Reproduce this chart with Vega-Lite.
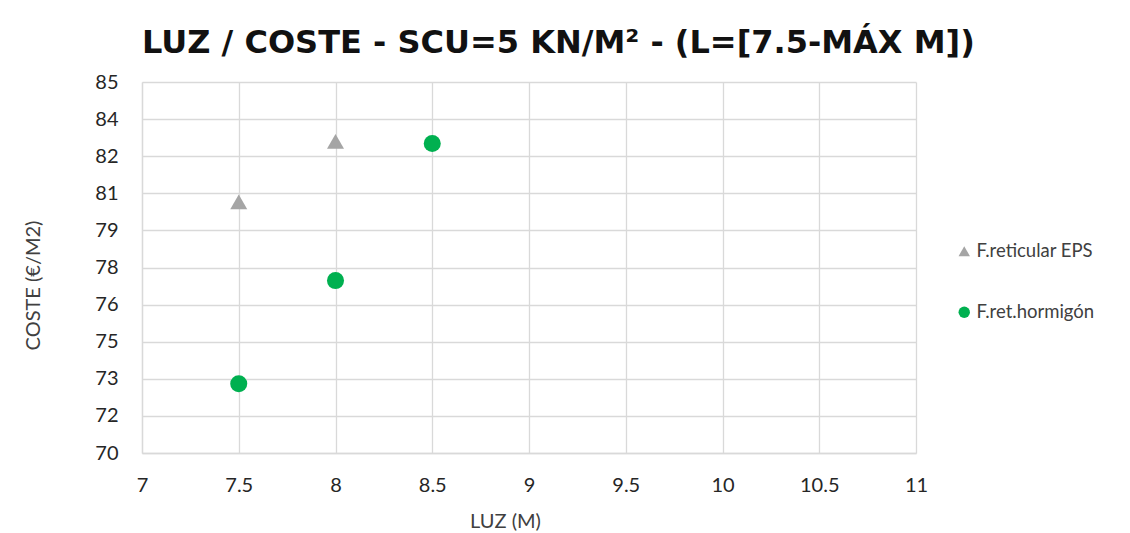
{
  "$schema": "https://vega.github.io/schema/vega-lite/v6.json",
  "width": 774,
  "height": 371,
  "autosize": "none",
  "padding": {"left": 142, "top": 82, "right": 214, "bottom": 80},
  "background": "white",
  "title": {
    "text": "LUZ / COSTE - SCU=5 KN/M² - (L=[7.5-MÁX M])",
    "font": "DejaVu Sans",
    "fontSize": 32,
    "fontWeight": "bold",
    "color": "#111111",
    "anchor": "start",
    "frame": "group",
    "offset": 12
  },
  "data": {
    "values": [
      {"luz": 7.5, "coste": 80.15, "serie": "F.reticular EPS"},
      {"luz": 8.0, "coste": 82.6, "serie": "F.reticular EPS"},
      {"luz": 7.5, "coste": 72.8, "serie": "F.ret.hormigón"},
      {"luz": 8.0, "coste": 76.97, "serie": "F.ret.hormigón"},
      {"luz": 8.5, "coste": 82.51, "serie": "F.ret.hormigón"}
    ]
  },
  "mark": {"type": "point", "filled": true, "opacity": 1, "size": 290},
  "encoding": {
    "x": {
      "field": "luz",
      "type": "quantitative",
      "scale": {"domain": [7, 11], "nice": false, "zero": false},
      "axis": {
        "title": "LUZ (M)",
        "values": [7, 7.5, 8, 8.5, 9, 9.5, 10, 10.5, 11],
        "format": "~g",
        "grid": true,
        "gridColor": "#D9D9D9",
        "gridWidth": 1.3,
        "domainColor": "#D9D9D9",
        "domainWidth": 1.3,
        "ticks": false,
        "labelFlush": false,
        "labelPadding": 22,
        "labelFont": "Lato",
        "labelFontSize": 20,
        "labelColor": "#262626",
        "titleFont": "Lato",
        "titleFontSize": 20,
        "titleFontWeight": "normal",
        "titleColor": "#404040",
        "titleX": 363,
        "titleY": 58,
        "titleBaseline": "top"
      }
    },
    "y": {
      "field": "coste",
      "type": "quantitative",
      "scale": {"domain": [70, 85], "nice": false, "zero": false},
      "axis": {
        "title": "COSTE (€/M2)",
        "values": [70, 71.5, 73, 74.5, 76, 77.5, 79, 80.5, 82, 83.5, 85],
        "format": ".0f",
        "grid": true,
        "gridColor": "#D9D9D9",
        "gridWidth": 1.3,
        "domainColor": "#D9D9D9",
        "domainWidth": 1.3,
        "ticks": false,
        "labelFlush": false,
        "labelPadding": 24,
        "labelFont": "Lato",
        "labelFontSize": 20,
        "labelColor": "#262626",
        "titleFont": "Lato",
        "titleFontSize": 20,
        "titleFontWeight": "normal",
        "titleColor": "#404040",
        "titleX": -109,
        "titleY": 203,
        "titleBaseline": "middle"
      }
    },
    "color": {
      "field": "serie",
      "type": "nominal",
      "scale": {"domain": ["F.reticular EPS", "F.ret.hormigón"], "range": ["#A5A5A5", "#00B050"]},
      "legend": {
        "title": null,
        "orient": "none",
        "legendX": 813,
        "legendY": 160,
        "rowPadding": 42,
        "symbolSize": 130,
        "labelFont": "Lato",
        "labelFontSize": 18.5,
        "labelColor": "#404040",
        "labelOffset": 3
      }
    },
    "shape": {
      "field": "serie",
      "type": "nominal",
      "scale": {"domain": ["F.reticular EPS", "F.ret.hormigón"], "range": ["triangle-up", "circle"]},
      "legend": null
    }
  },
  "config": {"view": {"stroke": null}}
}
